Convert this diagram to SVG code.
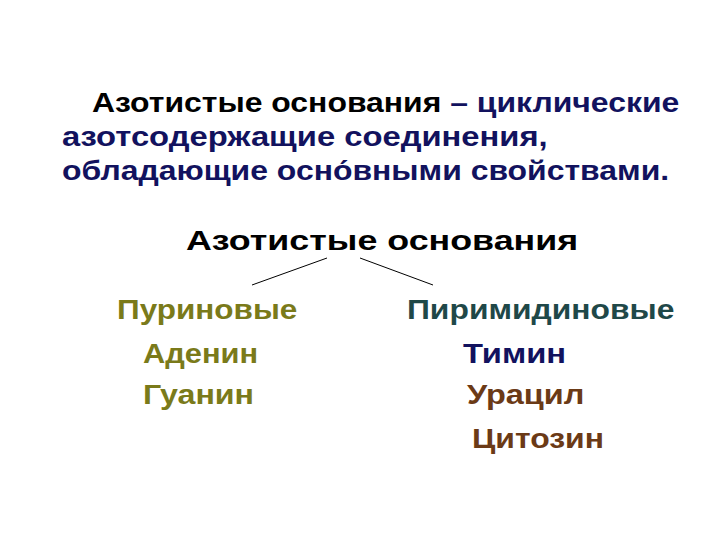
<svg xmlns="http://www.w3.org/2000/svg" width="720" height="540" viewBox="0 0 720 540">
<style>
text{font-family:"Liberation Sans",Arial,sans-serif;font-weight:bold;font-size:28px}
.blk{fill:#000}
.nv{fill:#12125e}
.ol{fill:#7a7a1a}
.tl{fill:#1f4848}
.br{fill:#6b3a16}
.ln{stroke:#000;stroke-width:1}
</style>
<rect width="720" height="540" fill="#fff"/>
<g id="definition">
<text transform="translate(92,112) scale(1.14,1)"><tspan class="blk">Азотистые основания </tspan><tspan class="nv">– циклические</tspan></text>
<text class="nv" transform="translate(62,146) scale(1.17,1)">азотсодержащие соединения,</text>
<text class="nv" transform="translate(62,180) scale(1.14,1)">обладающие осно́вными свойствами.</text>
</g>
<g id="root"><text class="blk" transform="translate(186,250) scale(1.28,1)">Азотистые основания</text></g>
<g id="connectors">
<line class="ln" x1="327" y1="258" x2="252" y2="285"/>
<line class="ln" x1="360" y1="258" x2="433" y2="285"/>
</g>
<g id="purines">
<text class="ol" transform="translate(117,319) scale(1.125,1)">Пуриновые</text>
<text class="ol" transform="translate(143,363) scale(1.1,1)">Аденин</text>
<text class="ol" transform="translate(143,404) scale(1.15,1)">Гуанин</text>
</g>
<g id="pyrimidines">
<text class="tl" transform="translate(407,319) scale(1.137,1)">Пиримидиновые</text>
<text class="nv" transform="translate(463,363) scale(1.17,1)">Тимин</text>
<text class="br" transform="translate(467,404) scale(1.16,1)">Урацил</text>
<text class="br" transform="translate(472,448) scale(1.14,1)">Цитозин</text>
</g>
</svg>
